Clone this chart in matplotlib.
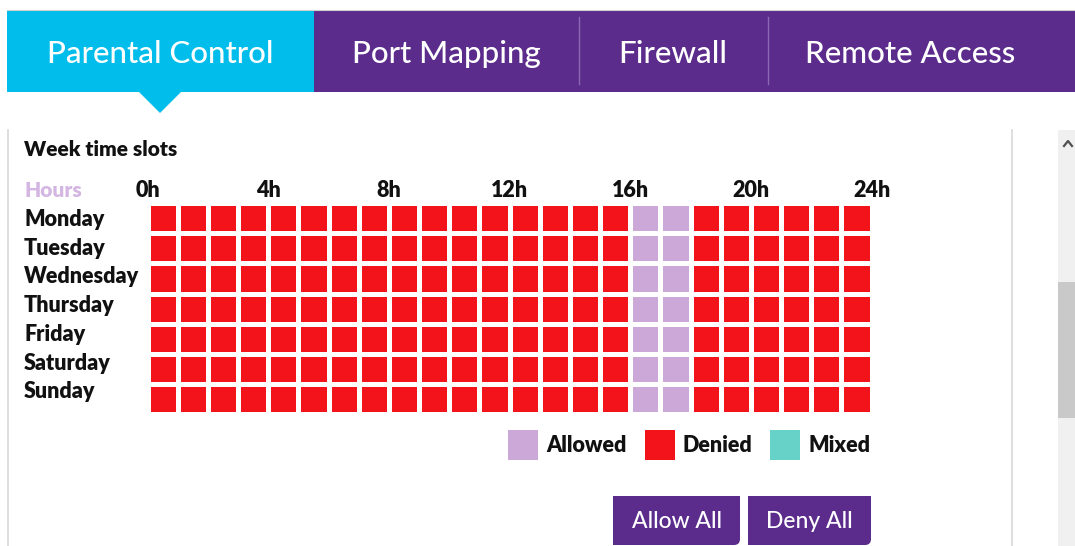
import numpy as np
import matplotlib
matplotlib.use('Agg')
import matplotlib.pyplot as plt
from matplotlib.patches import Rectangle, Polygon, PathPatch
from matplotlib.path import Path
from matplotlib.colors import ListedColormap

plt.rcParams['font.family'] = ['Lato', 'DejaVu Sans']

# ---- data ----
tabs = ['Parental Control', 'Port Mapping', 'Firewall', 'Remote Access']
days = ['Monday', 'Tuesday', 'Wednesday', 'Thursday', 'Friday', 'Saturday', 'Sunday']
hour_ticks = [0, 4, 8, 12, 16, 20, 24]
hour_labels = ['0h', '4h', '8h', '12h', '16h', '20h', '24h']
# one char per hour slot: D = denied, A = allowed, M = mixed
schedule = [
    'DDDDDDDDDDDDDDDDAADDDDDD',  # Monday
    'DDDDDDDDDDDDDDDDAADDDDDD',  # Tuesday
    'DDDDDDDDDDDDDDDDAADDDDDD',  # Wednesday
    'DDDDDDDDDDDDDDDDAADDDDDD',  # Thursday
    'DDDDDDDDDDDDDDDDAADDDDDD',  # Friday
    'DDDDDDDDDDDDDDDDAADDDDDD',  # Saturday
    'DDDDDDDDDDDDDDDDAADDDDDD',  # Sunday
]
legend_names = ['Allowed', 'Denied', 'Mixed']
buttons = ['Allow All', 'Deny All']

# ---- colours ----
CYAN = '#00BDEB'
PURPLE = '#5B2C8C'
SEP = '#8A68B4'
RED = '#F2141A'
LILAC = '#CCA8D8'
TEAL = '#66D2C8'
INK = '#111111'
state_colors = {'A': LILAC, 'D': RED, 'M': TEAL}
state_index = {'A': 0, 'D': 1, 'M': 2}
BOLD = 'heavy'

W, H = 1075, 546
fig = plt.figure(figsize=(W / 100, H / 100), dpi=100)
ax = fig.add_axes([0, 0, 1, 1])
ax.set_xlim(0, W)
ax.set_ylim(H, 0)
ax.axis('off')

# tab bar
ax.add_patch(Rectangle((7, 10), W - 7, 82, color=PURPLE, lw=0))
ax.add_patch(Rectangle((7, 10), 307, 82, color=CYAN, lw=0))
ax.plot([7, W], [9.5, 9.5], color='#D0D0D0', lw=0.8)
ax.add_patch(Polygon([[138, 91], [182, 91], [160, 113]], closed=True, color=CYAN, lw=0))
for xs in [579, 768]:
    ax.plot([xs, xs], [17, 84], color=SEP, lw=1)
tab_x = [160, 446, 673, 910]
for t, x in zip(tabs, tab_x):
    ax.text(x, 54, t, color='white', fontsize=22.5, fontweight='medium', ha='center', va='center')

# panel borders + scrollbar
ax.plot([8, 8], [130, H], color='#D8D8D8', lw=1.2)
ax.plot([1012, 1012], [130, H], color='#D8D8D8', lw=1.2)
ax.add_patch(Rectangle((1058, 130), 17, H - 130, color='#F0F0F0', lw=0))
ax.add_patch(Rectangle((1058, 282), 17, 136, color='#C9C9C9', lw=0))
ax.plot([1064, 1068, 1072], [146, 141, 146], color='#505050', lw=1.6)

ax.text(24, 149, 'Week time slots', fontsize=15, fontweight=BOLD, va='center', color=INK)
ax.text(24, 190.5, 'Hours', fontsize=15, fontweight=BOLD, va='center', color='#D4B6E2')

for i, d in enumerate(days):
    ax.text(24, 219.5 + i * 28.7, d, fontsize=15.5, fontweight=BOLD, va='center', color=INK)

# schedule grid
gx0, gx1, gy0, gy1 = 147.5, 871.5, 203.0, 414.5
gax = fig.add_axes([gx0 / W, 1 - gy1 / H, (gx1 - gx0) / W, (gy1 - gy0) / H])
grid = np.array([[state_index[c] for c in row] for row in schedule])
cmap = ListedColormap([LILAC, RED, TEAL])
gax.pcolormesh(np.arange(25), np.arange(8), grid, cmap=cmap, vmin=-0.5, vmax=2.5,
               edgecolors='white', linewidth=2.2)
gax.set_xlim(0, 24)
gax.set_ylim(7, 0)
for s in gax.spines.values():
    s.set_visible(False)
gax.set_yticks([])
gax.set_xticks(hour_ticks)
gax.set_xticklabels(hour_labels, fontsize=15.5, fontweight=BOLD, color=INK)
gax.xaxis.tick_top()
gax.tick_params(axis='x', length=0, pad=1.5)

# legend
leg_sq = [508, 645, 770]
for name, x in zip(legend_names, leg_sq):
    ax.add_patch(Rectangle((x, 430), 30, 30, color=state_colors[name[0]], lw=0))
    ax.text(x + 38, 446, name, fontsize=15.5, fontweight=BOLD, va='center', color=INK)


def button_path(x0, y0, x1, y1, r=6):
    verts = [(x0, y0), (x1, y0), (x1, y1 - r), (x1, y1), (x1 - r, y1), (x0, y1), (x0, y0)]
    codes = [Path.MOVETO, Path.LINETO, Path.LINETO, Path.CURVE3, Path.CURVE3, Path.LINETO, Path.CLOSEPOLY]
    return Path(verts, codes)


btn_box = [(613, 740), (748, 871)]
for label, (bx0, bx1) in zip(buttons, btn_box):
    ax.add_patch(PathPatch(button_path(bx0, 496, bx1, 545), facecolor=PURPLE, lw=0))
    ax.text((bx0 + bx1) / 2, 522, label, color='white', fontsize=16.5, fontweight='medium',
            ha='center', va='center')

fig.savefig('out.png', dpi=100)
